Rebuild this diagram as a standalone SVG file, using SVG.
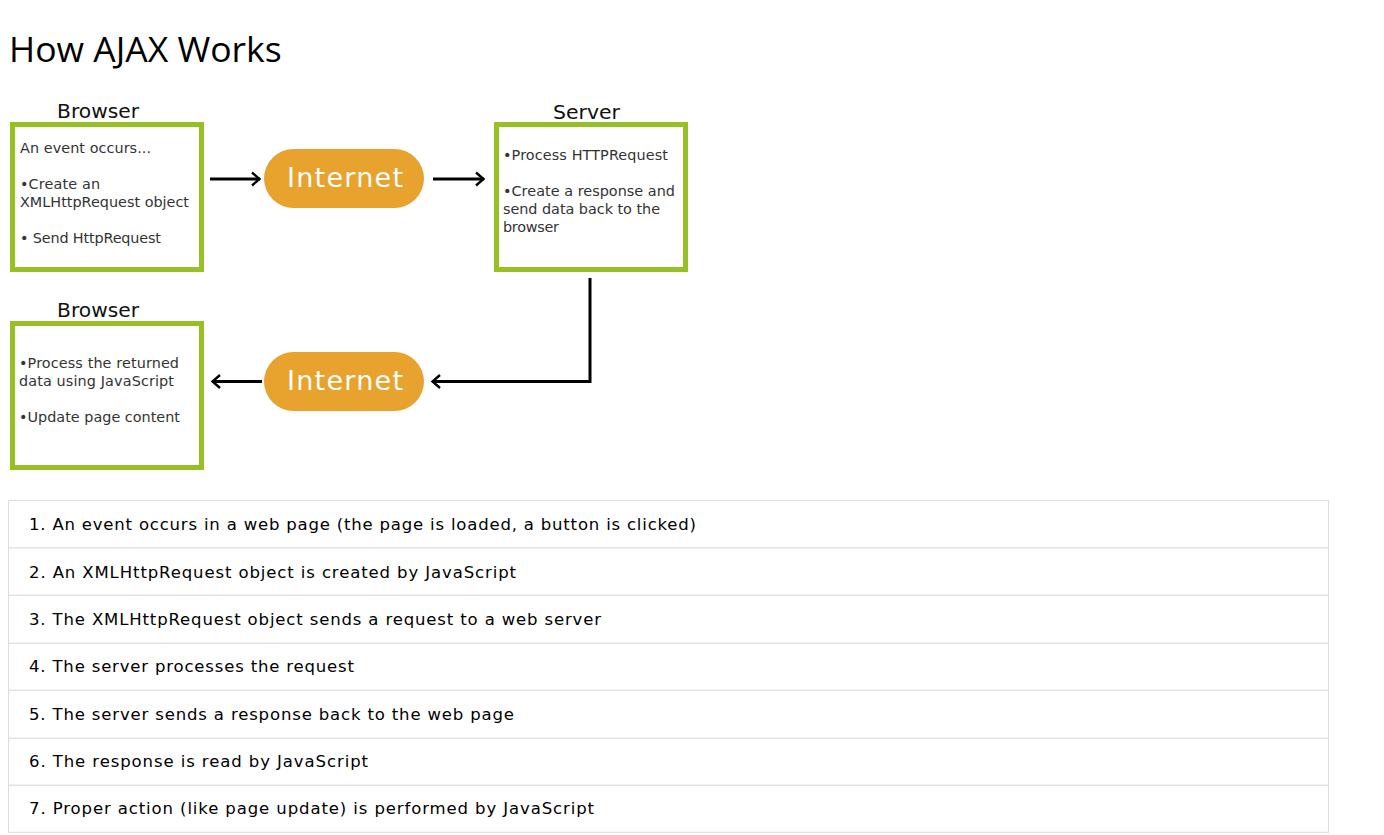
<svg xmlns="http://www.w3.org/2000/svg" width="1384" height="835" viewBox="0 0 1384 835">
<defs>
<marker id="arr" viewBox="0 0 12 16" refX="10.5" refY="8" markerWidth="12" markerHeight="16" markerUnits="userSpaceOnUse" orient="auto">
<path d="M2.5,1.5 L10,8 L2.5,14.5" fill="none" stroke="#000" stroke-width="2.4"/>
</marker>
<style>
.title{font-family:"Open Sans","Noto Sans",sans-serif;font-size:35.5px;fill:#000}
.lbl{font-family:"DejaVu Sans",Verdana,sans-serif;font-size:19px;fill:#111}
.box{fill:#fff;stroke:#97C024;stroke-width:5}
.bt{font-family:"DejaVu Sans",Verdana,sans-serif;font-size:14.4px;fill:#333}
.pill{fill:#E8A22E}
.pt{font-family:"DejaVu Sans",Verdana,sans-serif;font-size:27px;fill:#fff}
.conn{fill:none;stroke:#000;stroke-width:3;marker-end:url(#arr)}
.row{fill:#fff;stroke:#ddd;stroke-width:1}
.rt{font-family:"DejaVu Sans",Verdana,sans-serif;font-size:16.5px;fill:#000}
</style>
</defs>
<rect width="1384" height="835" fill="#fff"/>
<text class="title" x="9" y="62">How AJAX Works</text>

<g id="browser1">
<text class="lbl" x="57" y="118" textLength="82" lengthAdjust="spacingAndGlyphs">Browser</text>
<rect class="box" x="12.5" y="124.5" width="189" height="145"/>
<text class="bt" x="20" y="153" textLength="131">An event occurs...</text>
<text class="bt" x="20" y="189" textLength="80">•Create an</text>
<text class="bt" x="20" y="207" textLength="169">XMLHttpRequest object</text>
<text class="bt" x="20" y="243" textLength="141">• Send HttpRequest</text>
</g>

<g id="internet1">
<rect class="pill" x="264" y="149" width="160" height="59" rx="29.5"/>
<text class="pt" x="287" y="187" textLength="116">Internet</text>
</g>

<g id="server">
<text class="lbl" x="553" y="119" textLength="67" lengthAdjust="spacingAndGlyphs">Server</text>
<rect class="box" x="496.5" y="124.5" width="189" height="145"/>
<text class="bt" x="503" y="160" textLength="165">•Process HTTPRequest</text>
<text class="bt" x="503" y="196" textLength="172">•Create a response and</text>
<text class="bt" x="503" y="214" textLength="157">send data back to the</text>
<text class="bt" x="503" y="232" textLength="56">browser</text>
</g>

<g id="browser2">
<text class="lbl" x="57" y="317" textLength="82" lengthAdjust="spacingAndGlyphs">Browser</text>
<rect class="box" x="12.5" y="323.5" width="189" height="144"/>
<text class="bt" x="19" y="368" textLength="160">•Process the returned</text>
<text class="bt" x="19" y="386" textLength="155">data using JavaScript</text>
<text class="bt" x="19" y="422" textLength="161">•Update page content</text>
</g>

<g id="internet2">
<rect class="pill" x="264" y="352" width="160" height="59" rx="29.5"/>
<text class="pt" x="287" y="390" textLength="116">Internet</text>
</g>

<g id="connectors">
<path class="conn" d="M210,179 H260"/>
<path class="conn" d="M433,179 H484"/>
<path class="conn" d="M590,278 V381.5 H432"/>
<path class="conn" d="M262,381.5 H212"/>
</g>

<g id="steps">
<rect class="row" x="8.5" y="500.5" width="1320" height="47.5"/>
<rect class="row" x="8.5" y="548" width="1320" height="47.3"/>
<rect class="row" x="8.5" y="595.3" width="1320" height="48"/>
<rect class="row" x="8.5" y="643.3" width="1320" height="47"/>
<rect class="row" x="8.5" y="690.3" width="1320" height="48"/>
<rect class="row" x="8.5" y="738.3" width="1320" height="47"/>
<rect class="row" x="8.5" y="785.3" width="1320" height="47"/>
<text class="rt" x="29" y="530" textLength="667">1. An event occurs in a web page (the page is loaded, a button is clicked)</text>
<text class="rt" x="29" y="578" textLength="487">2. An XMLHttpRequest object is created by JavaScript</text>
<text class="rt" x="29" y="625" textLength="572">3. The XMLHttpRequest object sends a request to a web server</text>
<text class="rt" x="29" y="672" textLength="325">4. The server processes the request</text>
<text class="rt" x="29" y="720" textLength="485">5. The server sends a response back to the web page</text>
<text class="rt" x="29" y="767" textLength="339">6. The response is read by JavaScript</text>
<text class="rt" x="29" y="814" textLength="565">7. Proper action (like page update) is performed by JavaScript</text>
</g>
</svg>
